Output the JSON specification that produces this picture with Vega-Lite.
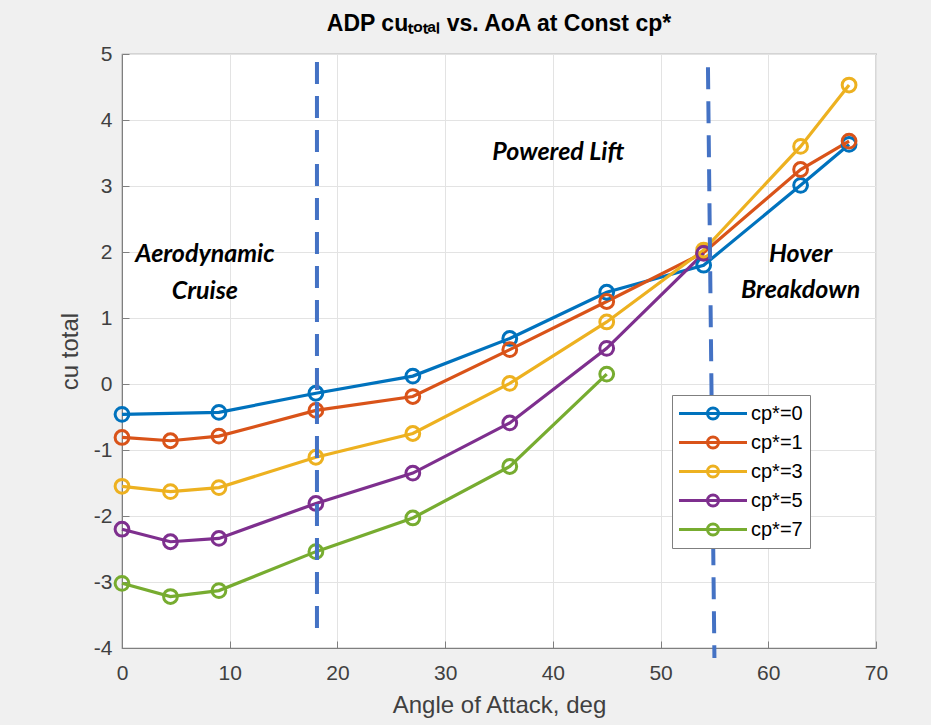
{
  "$schema": "https://vega.github.io/schema/vega-lite/v6.json",
  "width": 754,
  "height": 594,
  "autosize": {"type": "none"},
  "padding": {"left": 122, "top": 54, "right": 55, "bottom": 77},
  "background": "#f0f0f0",
  "title": {
    "text": "ADP cuₜₒₜₐₗ vs. AoA at Const cp*",
    "font": "Liberation Sans",
    "fontSize": 23,
    "fontWeight": "bold",
    "color": "#000000",
    "anchor": "middle",
    "offset": 7
  },
  "config": {
    "view": {"fill": "white", "stroke": "#7f7f7f", "strokeWidth": 1.2},
    "axis": {
      "labelFont": "Liberation Sans",
      "labelFontSize": 21,
      "labelColor": "#404040",
      "labelFlush": false,
      "titleFont": "Liberation Sans",
      "titleFontSize": 24,
      "titleFontWeight": "normal",
      "titleColor": "#404040",
      "gridColor": "#e3e3e3",
      "gridWidth": 1,
      "domainColor": "#7f7f7f",
      "tickColor": "#7f7f7f",
      "tickSize": -7
    }
  },
  "datasets": {
    "curves": [
      {"aoa": 0, "cu": -0.46, "series": "cp*=0"},
      {"aoa": 9, "cu": -0.43, "series": "cp*=0"},
      {"aoa": 18, "cu": -0.14, "series": "cp*=0"},
      {"aoa": 27, "cu": 0.12, "series": "cp*=0"},
      {"aoa": 36, "cu": 0.69, "series": "cp*=0"},
      {"aoa": 45, "cu": 1.39, "series": "cp*=0"},
      {"aoa": 54, "cu": 1.8, "series": "cp*=0"},
      {"aoa": 63, "cu": 3.01, "series": "cp*=0"},
      {"aoa": 67.5, "cu": 3.63, "series": "cp*=0"},
      {"aoa": 0, "cu": -0.81, "series": "cp*=1"},
      {"aoa": 4.5, "cu": -0.86, "series": "cp*=1"},
      {"aoa": 9, "cu": -0.79, "series": "cp*=1"},
      {"aoa": 18, "cu": -0.4, "series": "cp*=1"},
      {"aoa": 27, "cu": -0.19, "series": "cp*=1"},
      {"aoa": 36, "cu": 0.52, "series": "cp*=1"},
      {"aoa": 45, "cu": 1.25, "series": "cp*=1"},
      {"aoa": 54, "cu": 1.99, "series": "cp*=1"},
      {"aoa": 63, "cu": 3.25, "series": "cp*=1"},
      {"aoa": 67.5, "cu": 3.68, "series": "cp*=1"},
      {"aoa": 0, "cu": -1.55, "series": "cp*=3"},
      {"aoa": 4.5, "cu": -1.63, "series": "cp*=3"},
      {"aoa": 9, "cu": -1.57, "series": "cp*=3"},
      {"aoa": 18, "cu": -1.11, "series": "cp*=3"},
      {"aoa": 27, "cu": -0.75, "series": "cp*=3"},
      {"aoa": 36, "cu": 0.01, "series": "cp*=3"},
      {"aoa": 45, "cu": 0.94, "series": "cp*=3"},
      {"aoa": 54, "cu": 2.03, "series": "cp*=3"},
      {"aoa": 63, "cu": 3.6, "series": "cp*=3"},
      {"aoa": 67.5, "cu": 4.53, "series": "cp*=3"},
      {"aoa": 0, "cu": -2.2, "series": "cp*=5"},
      {"aoa": 4.5, "cu": -2.39, "series": "cp*=5"},
      {"aoa": 9, "cu": -2.34, "series": "cp*=5"},
      {"aoa": 18, "cu": -1.81, "series": "cp*=5"},
      {"aoa": 27, "cu": -1.35, "series": "cp*=5"},
      {"aoa": 36, "cu": -0.59, "series": "cp*=5"},
      {"aoa": 45, "cu": 0.54, "series": "cp*=5"},
      {"aoa": 54, "cu": 1.98, "series": "cp*=5"},
      {"aoa": 0, "cu": -3.02, "series": "cp*=7"},
      {"aoa": 4.5, "cu": -3.22, "series": "cp*=7"},
      {"aoa": 9, "cu": -3.13, "series": "cp*=7"},
      {"aoa": 18, "cu": -2.54, "series": "cp*=7"},
      {"aoa": 27, "cu": -2.03, "series": "cp*=7"},
      {"aoa": 36, "cu": -1.25, "series": "cp*=7"},
      {"aoa": 45, "cu": 0.15, "series": "cp*=7"}
    ],
    "dividers": [
      {"xa": 18.1, "ya": 4.88, "xb": 18.1, "yb": -3.85},
      {"xa": 54.4, "ya": 4.8, "xb": 55.0, "yb": -4.15}
    ],
    "notes": [
      {"aoa": 7.7, "cu": 1.97, "label": "Aerodynamic"},
      {"aoa": 7.7, "cu": 1.41, "label": "Cruise"},
      {"aoa": 40.5, "cu": 3.52, "label": "Powered Lift"},
      {"aoa": 63.0, "cu": 1.97, "label": "Hover"},
      {"aoa": 63.0, "cu": 1.42, "label": "Breakdown"}
    ]
  },
  "layer": [
    {
      "data": {"name": "curves"},
      "mark": {"type": "line", "strokeWidth": 3.2},
      "encoding": {
        "x": {
          "field": "aoa",
          "type": "quantitative",
          "scale": {"domain": [0, 70], "nice": false},
          "axis": {"values": [0, 10, 20, 30, 40, 50, 60, 70], "format": "d", "title": "Angle of Attack, deg", "labelPadding": 21, "titlePadding": 10}
        },
        "y": {
          "field": "cu",
          "type": "quantitative",
          "scale": {"domain": [-4, 5], "nice": false},
          "axis": {
            "values": [-4, -3, -2, -1, 0, 1, 2, 3, 4, 5],
            "labelExpr": "datum.value < 0 ? '-' + abs(datum.value) : '' + datum.value",
            "title": "cu total",
            "labelPadding": 17,
            "titlePadding": 11
          }
        },
        "color": {
          "field": "series",
          "type": "nominal",
          "scale": {
            "domain": ["cp*=0", "cp*=1", "cp*=3", "cp*=5", "cp*=7"],
            "range": ["#0072BD", "#D95319", "#EDB120", "#7E2F8E", "#77AC30"]
          },
          "legend": {
            "title": null,
            "orient": "none",
            "legendX": 550,
            "legendY": 341,
            "symbolType": "M-1.15,0 L5.65,0 M1.7,0 A0.55,0.55 0 1,1 2.8,0 A0.55,0.55 0 1,1 1.7,0",
            "symbolSize": 400,
            "symbolStrokeWidth": 3,
            "symbolFillColor": "transparent",
            "labelFont": "Liberation Sans",
            "labelFontSize": 20,
            "labelColor": "#000000",
            "labelOffset": 49,
            "rowPadding": 6,
            "padding": 7,
            "strokeColor": "#7f7f7f",
            "fillColor": "white"
          }
        }
      }
    },
    {
      "data": {"name": "curves"},
      "mark": {"type": "point", "shape": "circle", "filled": false, "size": 190, "strokeWidth": 3, "opacity": 1},
      "encoding": {
        "x": {"field": "aoa", "type": "quantitative"},
        "y": {"field": "cu", "type": "quantitative"},
        "color": {"field": "series", "type": "nominal", "legend": null}
      }
    },
    {
      "data": {"name": "dividers"},
      "mark": {"type": "rule", "color": "#4472C4", "strokeWidth": 4, "strokeDash": [22, 12], "clip": false},
      "encoding": {
        "x": {"field": "xa", "type": "quantitative"},
        "y": {"field": "ya", "type": "quantitative"},
        "x2": {"field": "xb"},
        "y2": {"field": "yb"}
      }
    },
    {
      "data": {"name": "notes"},
      "mark": {"type": "text", "font": "Lato", "fontStyle": "italic", "fontWeight": "bold", "fontSize": 25, "color": "#000000", "align": "center", "baseline": "middle"},
      "encoding": {
        "x": {"field": "aoa", "type": "quantitative"},
        "y": {"field": "cu", "type": "quantitative"},
        "text": {"field": "label"}
      }
    }
  ]
}
